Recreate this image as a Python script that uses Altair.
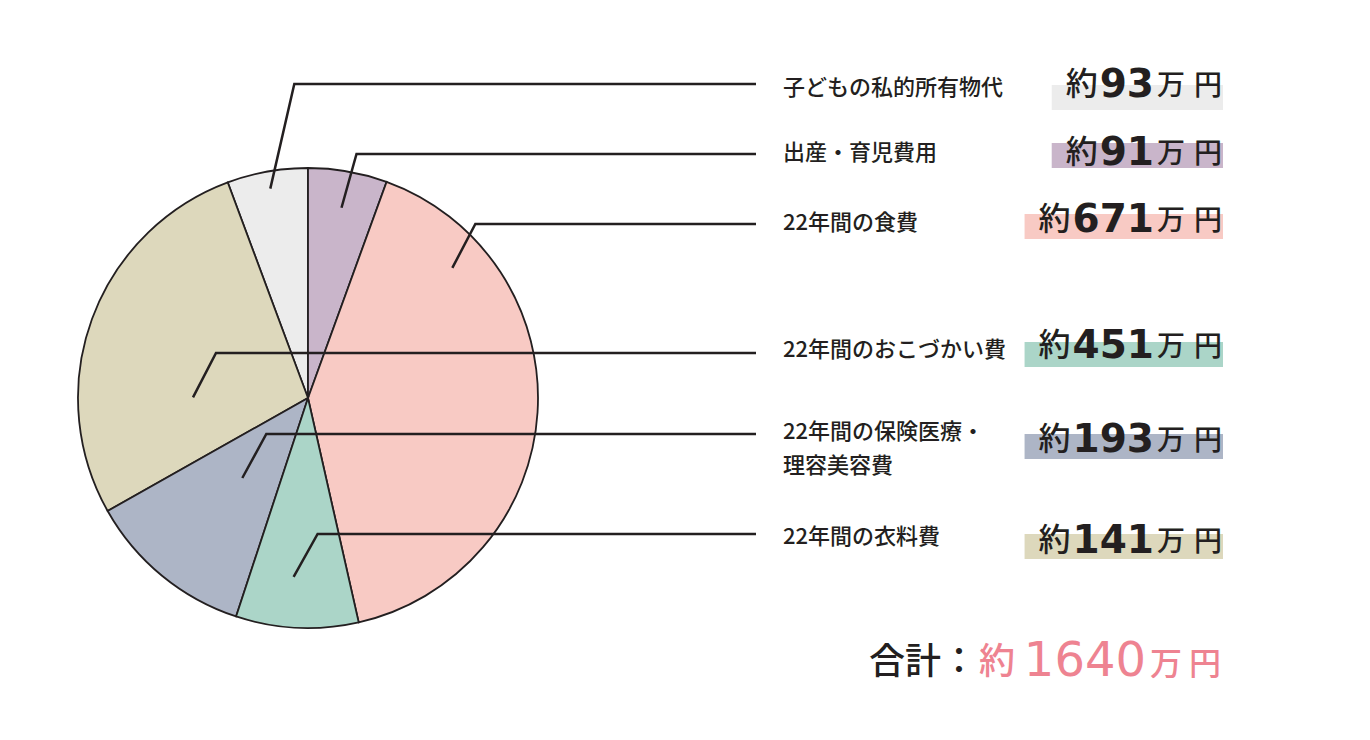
import altair as alt
import pandas as pd
import math

# ---------------- data ----------------
labels = ["子どもの私的所有物代", "出産・育児費用", "22年間の食費",
          "22年間のおこづかい費", "22年間の保険医療・\n理容美容費", "22年間の衣料費"]
values = [93, 91, 671, 451, 193, 141]
slice_colors = ["#ececec", "#c9b5ca", "#f8cac4", "#ddd8bc", "#adb5c6", "#abd5c8"]
highlight_colors = ["#ececec", "#c9b5ca", "#f8cac4", "#abd5c8", "#adb5c6", "#ddd8bc"]
pie_order = [5, 0, 1, 4, 3, 2]  # clockwise position from 12 o'clock
total_value = 1640
prefix = "約"
unit = ["万", "円"]
total_label = "合計："

# ---------------- layout / style ----------------
INK = "#231f20"
PINK = "#ee8391"
JP = "Noto Sans CJK JP"
NUM = "DejaVu Sans"
W, H = 1354, 724
CX, CY, R = 308, 398, 230
line_y = [84, 154, 224, 353, 434, 534]
label_y = [88, 153, 223, 350, 432, 537]
label_line_h = 34
anchor_frac = [0.5, 0.5, 0.19, 0.30, 0.5, 0.56]
radius_frac = [0.925, 0.84, 0.845, 0.5, 0.45, 0.78]
elbow_dx = [24, 15, 23, 23, 24, 24]
LINE_END_X = 756
LABEL_X = 783
value_cy = [82, 150, 217, 343, 437, 538]
box_top = [85, 143, 214, 342, 434, 534]
BOX_H = 25
BOX_RIGHT = 1223
DIGITS_RIGHT = 1154
DIGIT_FS = 39
DIGIT_ADV = 0.696 * DIGIT_FS
UNIT_X = [1171, 1208]

xs = alt.Scale(domain=[8, 8 + W], nice=False, zero=False)
ys = alt.Scale(domain=[8, 8 + H], nice=False, zero=False, reverse=True)

# pie angles
tot = sum(values)
start = {}
acc = 0
for pos in range(len(values)):
    i = pie_order.index(pos)
    start[i] = acc
    acc += values[i]

pie_df = pd.DataFrame({"cat": labels, "value": values, "order": pie_order, "color": slice_colors})

arc = alt.Chart(pie_df).mark_arc(radius=R, stroke=INK, strokeWidth=1.8).encode(
    theta=alt.Theta("value:Q", stack=True),
    order=alt.Order("order:Q"),
    color=alt.Color("color:N", scale=None),
    x=alt.XDatum(CX, type="quantitative", scale=xs, axis=None),
    y=alt.YDatum(CY, type="quantitative", scale=ys, axis=None),
)

# leader lines
pts = []
for i in range(len(values)):
    a0 = start[i] / tot * 2 * math.pi
    span = values[i] / tot * 2 * math.pi
    a = a0 + anchor_frac[i] * span
    r = radius_frac[i] * R
    ex, ey = CX + r * math.sin(a), CY - r * math.cos(a)
    pts.append({"row": i, "pt": 0, "x": ex, "y": ey})
    pts.append({"row": i, "pt": 1, "x": ex + elbow_dx[i], "y": line_y[i]})
    pts.append({"row": i, "pt": 2, "x": LINE_END_X, "y": line_y[i]})
lines_df = pd.DataFrame(pts)
leaders = alt.Chart(lines_df).mark_line(color=INK, strokeWidth=2.5, strokeCap="butt").encode(
    x=alt.X("x:Q", scale=xs, axis=None),
    y=alt.Y("y:Q", scale=ys, axis=None),
    detail="row:N",
    order="pt:Q",
)

# labels
lab_rows = []
for i, lab in enumerate(labels):
    for k, part in enumerate(lab.split("\n")):
        lab_rows.append({"t": part, "x": LABEL_X, "y": label_y[i] + k * label_line_h})
lab_df = pd.DataFrame(lab_rows)
label_text = alt.Chart(lab_df).mark_text(
    align="left", baseline="middle", font=JP, fontSize=22, fontWeight=500, color=INK
).encode(
    x=alt.X("x:Q", scale=xs, axis=None),
    y=alt.Y("y:Q", scale=ys, axis=None),
    text="t:N",
)

# value boxes and texts
box_rows, dig_rows, pre_rows, unit_rows = [], [], [], []
for i, v in enumerate(values):
    s = str(v)
    dleft = DIGITS_RIGHT - len(s) * DIGIT_ADV
    box_rows.append({"x": dleft - 48, "x2": BOX_RIGHT, "y": box_top[i], "y2": box_top[i] + BOX_H,
                     "c": highlight_colors[i]})
    dig_rows.append({"t": s, "x": DIGITS_RIGHT, "y": value_cy[i] + 3})
    pre_rows.append({"t": prefix, "x": dleft - 2, "y": value_cy[i] + 3})
    for k, u in enumerate(unit):
        unit_rows.append({"t": u, "x": UNIT_X[k], "y": value_cy[i] + 5})

boxes = alt.Chart(pd.DataFrame(box_rows)).mark_rect().encode(
    x=alt.X("x:Q", scale=xs, axis=None), x2="x2:Q",
    y=alt.Y("y:Q", scale=ys, axis=None), y2="y2:Q",
    color=alt.Color("c:N", scale=None),
)
digits = alt.Chart(pd.DataFrame(dig_rows)).mark_text(
    align="right", baseline="middle", font=NUM, fontSize=DIGIT_FS, fontWeight="bold", color=INK
).encode(x=alt.X("x:Q", scale=xs, axis=None), y=alt.Y("y:Q", scale=ys, axis=None), text="t:N")
pre = alt.Chart(pd.DataFrame(pre_rows)).mark_text(
    align="right", baseline="middle", font=JP, fontSize=32, fontWeight=500, color=INK
).encode(x=alt.X("x:Q", scale=xs, axis=None), y=alt.Y("y:Q", scale=ys, axis=None), text="t:N")
units = alt.Chart(pd.DataFrame(unit_rows)).mark_text(
    align="center", baseline="middle", font=JP, fontSize=28, fontWeight=500, color=INK
).encode(x=alt.X("x:Q", scale=xs, axis=None), y=alt.Y("y:Q", scale=ys, axis=None), text="t:N")

# total
tot_black = alt.Chart(pd.DataFrame([{"t": total_label, "x": 869, "y": 663}])).mark_text(
    align="left", baseline="middle", font=JP, fontSize=36, fontWeight=500, color=INK
).encode(x=alt.X("x:Q", scale=xs, axis=None), y=alt.Y("y:Q", scale=ys, axis=None), text="t:N")
tot_pink_rows = [
    {"t": prefix, "x": 997, "y": 663, "fs": 36},
    {"t": unit[0], "x": 1166, "y": 665, "fs": 32},
    {"t": unit[1], "x": 1205, "y": 665, "fs": 32},
]
tot_pink = alt.Chart(pd.DataFrame(tot_pink_rows)).mark_text(
    align="center", baseline="middle", font=JP, fontWeight=500, color=PINK
).encode(
    x=alt.X("x:Q", scale=xs, axis=None), y=alt.Y("y:Q", scale=ys, axis=None), text="t:N",
    size=alt.Size("fs:Q", scale=None),
)
tot_digits = alt.Chart(pd.DataFrame([{"t": str(total_value), "x": 1146, "y": 662}])).mark_text(
    align="right", baseline="middle", font=NUM, fontSize=48, color=PINK
).encode(x=alt.X("x:Q", scale=xs, axis=None), y=alt.Y("y:Q", scale=ys, axis=None), text="t:N")

chart = alt.layer(
    arc, leaders, label_text, boxes, digits, pre, units, tot_black, tot_pink, tot_digits
).properties(
    width=W, height=H, padding=0, autosize=alt.AutoSizeParams(type="none"), background="#ffffff"
).configure_view(strokeWidth=0)

chart.save("out.html", embed_options={"renderer": "svg", "actions": False})
